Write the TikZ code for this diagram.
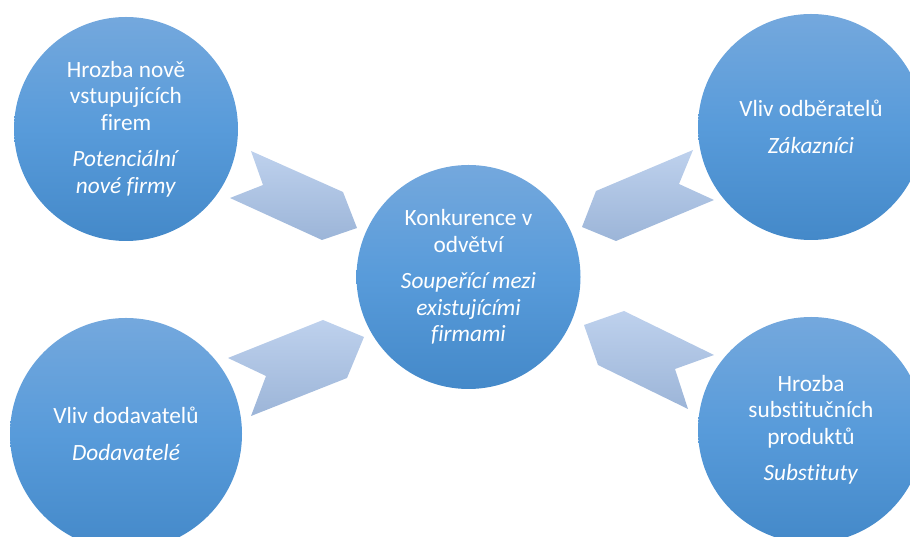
\documentclass[tikz,border=0pt]{standalone}
\usepackage{fontspec}
\setmainfont{Carlito}[Ligatures=NoCommon]
\usetikzlibrary{positioning}
\definecolor{forcetop}{RGB}{116,168,221}
\definecolor{forcemid}{RGB}{88,155,218}
\definecolor{forcebottom}{RGB}{68,137,201}
\definecolor{arrowtop}{RGB}{190,209,237}
\definecolor{arrowbottom}{RGB}{156,181,216}

\begin{document}
\begin{tikzpicture}[
x=1pt, y=1pt,
force/.style={circle, minimum size=#1, inner sep=0pt, align=center, text=white, font=\fontsize{23.3}{26.5}\selectfont, top color=forcetop, bottom color=forcebottom, middle color=forcemid},
chevron/.style={top color=arrowtop, bottom color=arrowbottom}
]
\useasboundingbox (0,0) rectangle (910,537);
\clip (0,0) rectangle (910,537);

% chevrons pointing to the centre
\path[chevron] (251,386) -- (343,345) -- (357,309) -- (322,297) -- (230,339) -- (263,352) -- cycle;
\path[chevron] (693,387) -- (679,353) -- (714,337) -- (616,296) -- (582,310) -- (596,346) -- cycle;
\path[chevron] (323,217) -- (364,200) -- (347,159) -- (251,121) -- (266,161) -- (228,179) -- cycle;
\path[chevron] (624,226) -- (714,182) -- (675,168) -- (688,128) -- (598,172) -- (584,212) -- cycle;

% forces
\node[force=224pt] (rivalry) at (468.5,260) {Konkurence v\\odvětví\\[10pt]\textit{Soupeřící mezi}\\\textit{existujícími}\\\textit{firmami}};
\node[force=224pt] (entrants) at (126,408) {Hrozba nově\\vstupujících\\firem\\[10pt]\textit{Potenciální}\\\textit{nové firmy}};
\node[force=226pt] (buyers) at (811,410) {Vliv odběratelů\\[10pt]\textit{Zákazníci}};
\node[force=232pt] (suppliers) at (126,103) {Vliv dodavatelů\\[10pt]\textit{Dodavatelé}};
\node[force=226pt] (substitutes) at (811,107) {Hrozba\\substitučních\\produktů\\[10pt]\textit{Substituty}};
\end{tikzpicture}
\end{document}
